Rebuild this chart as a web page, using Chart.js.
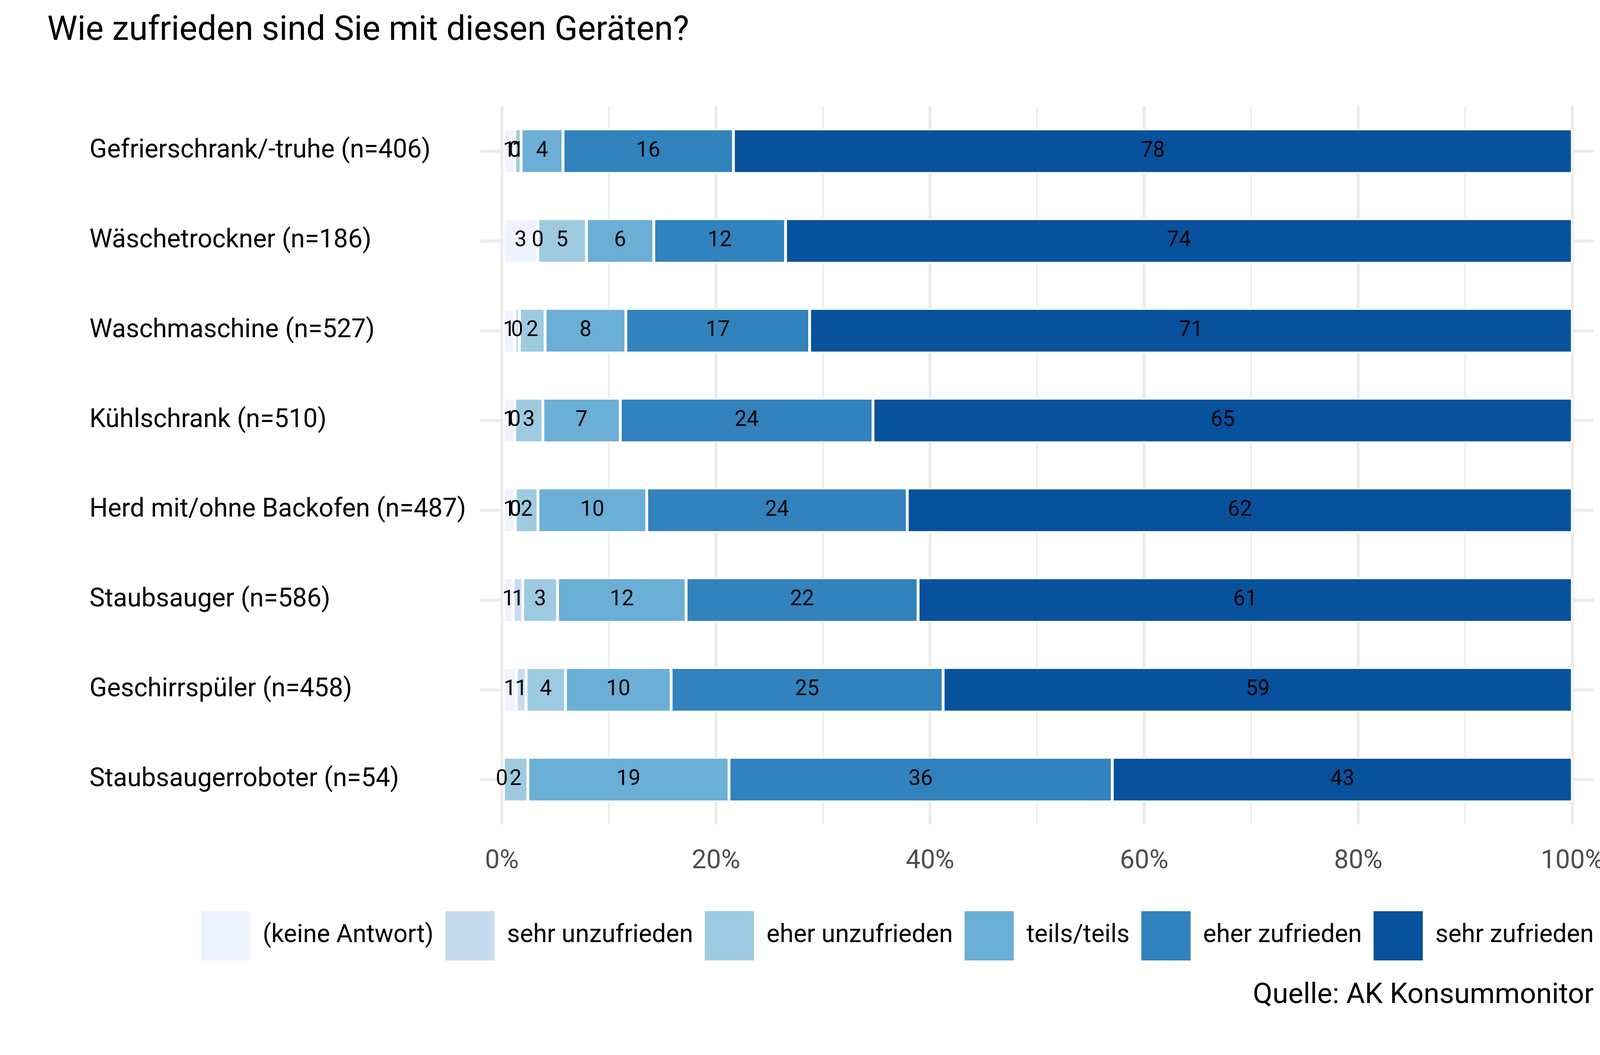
<!DOCTYPE html>
<html lang="de">
<head>
<meta charset="utf-8">
<title>Wie zufrieden sind Sie mit diesen Geräten?</title>
<script src="https://cdn.jsdelivr.net/npm/chart.js@4.4.1/dist/chart.umd.min.js"></script>
<style>
  html, body { margin: 0; padding: 0; background: #ffffff; }
  #wrap { width: 4200px; height: 2700px; position: relative; }
</style>
</head>
<body>
<div id="wrap"><canvas id="chart"></canvas></div>
<script>
// Geräte, von oben nach unten
const geraete = [
  'Gefrierschrank/-truhe (n=406)',
  'Wäschetrockner (n=186)',
  'Waschmaschine (n=527)',
  'Kühlschrank (n=510)',
  'Herd mit/ohne Backofen (n=487)',
  'Staubsauger (n=586)',
  'Geschirrspüler (n=458)',
  'Staubsaugerroboter (n=54)'
];

// Anteile in Prozent
const keineAntwort    = [1.2, 3.35, 1.2, 1.2, 1.25, 1.06, 1.35, 0];
const sehrUnzufrieden = [0, 0, 0.44, 0, 0, 0.88, 0.91, null];
const eherUnzufrieden = [0.6, 4.55, 2.4, 2.63, 2.12, 3.26, 3.68, 2.43];
const teilsTeils      = [3.91, 6.29, 7.54, 7.23, 10.16, 12.01, 9.87, 18.79];
const eherZufrieden   = [15.92, 12.31, 17.17, 23.61, 24.34, 21.67, 25.41, 35.8];
const sehrZufrieden   = [78.37, 73.5, 71.25, 65.33, 62.13, 61.12, 58.78, 42.98];

const antworten = ['(keine Antwort)', 'sehr unzufrieden', 'eher unzufrieden', 'teils/teils', 'eher zufrieden', 'sehr zufrieden'];
const farben = ['#eff3ff', '#c6dbef', '#9ecae1', '#6baed6', '#3182bd', '#08519c'];
const werte = [keineAntwort, sehrUnzufrieden, eherUnzufrieden, teilsTeils, eherZufrieden, sehrZufrieden];

// Achse: Striche alle 10 %, Beschriftung alle 20 %
const xTicks = [0, 10, 20, 30, 40, 50, 60, 70, 80, 90, 100];

Chart.defaults.font.family = 'Roboto';

// Zahlen mittig in die Balkenstücke schreiben
const balkenWerte = {
  id: 'balkenWerte',
  afterDatasetsDraw(chart) {
    const ctx = chart.ctx;
    ctx.save();
    ctx.font = '55px Roboto';
    ctx.fillStyle = '#000000';
    ctx.textAlign = 'center';
    ctx.textBaseline = 'middle';
    chart.data.datasets.forEach((ds, i) => {
      chart.getDatasetMeta(i).data.forEach((bar, j) => {
        const v = ds.data[j];
        if (v === null || v === undefined) return;
        ctx.fillText(Math.round(v), (bar.x + bar.base) / 2, bar.y);
      });
    });
    ctx.restore();
  }
};

// Titel weiter links als die Achsenbeschriftung, Legende bündig rechts
const verschieben = {
  id: 'verschieben',
  afterLayout(chart) {
    chart.titleBlock.left = 121;
    chart.legend.left += 30;
    chart.legend.right += 30;
  }
};

new Chart(document.getElementById('chart'), {
  type: 'bar',
  data: {
    labels: geraete,
    datasets: antworten.map((name, i) => ({
      label: name,
      data: werte[i],
      backgroundColor: farben[i],
      borderColor: '#ffffff',
      borderWidth: 4,
      borderSkipped: false,
      barThickness: 114
    }))
  },
  options: {
    indexAxis: 'y',
    responsive: true,
    maintainAspectRatio: false,
    animation: false,
    layout: {
      padding: { left: 229, right: 120, top: 0, bottom: 0 }
    },
    plugins: {
      title: {
        display: true,
        text: 'Wie zufrieden sind Sie mit diesen Geräten?',
        align: 'start',
        color: '#000000',
        font: { size: 87, weight: 'normal' },
        padding: { top: 28, bottom: 139.6 }
      },
      subtitle: {
        display: true,
        text: 'Quelle: AK Konsummonitor',
        position: 'bottom',
        align: 'end',
        color: '#000000',
        font: { size: 73, weight: 'normal' },
        padding: { top: 37, bottom: 107.4 }
      },
      legend: {
        position: 'bottom',
        align: 'end',
        labels: {
          color: '#000000',
          font: { size: 64 },
          boxWidth: 126,
          boxHeight: 126,
          padding: 30,
          generateLabels(chart) {
            return Chart.defaults.plugins.legend.labels.generateLabels(chart).map(l => {
              l.lineWidth = 0;
              l.strokeStyle = 'rgba(0,0,0,0)';
              return l;
            });
          }
        }
      },
      tooltip: { enabled: false }
    },
    scales: {
      x: {
        type: 'linear',
        stacked: true,
        min: -2,
        max: 102,
        afterBuildTicks(axis) {
          axis.ticks = xTicks.map(v => ({ value: v }));
        },
        afterFit(scale) {
          scale.height = 192;
        },
        border: { display: false },
        grid: {
          color: '#ebebeb',
          lineWidth: c => (c.tick && c.tick.value % 20 === 0) ? 7.7 : 3.8,
          drawTicks: false
        },
        ticks: {
          autoSkip: false,
          maxRotation: 0,
          padding: 55,
          color: '#4d4d4d',
          font: { size: 67 },
          callback: v => (v % 20 === 0 ? v + '%' : '')
        }
      },
      y: {
        stacked: true,
        afterFit(scale) {
          scale.width = 1001;
        },
        border: { display: false },
        grid: {
          offset: false,
          color: '#ebebeb',
          lineWidth: 7.7,
          drawTicks: false
        },
        ticks: {
          crossAlign: 'far',
          color: '#000000',
          font: { size: 66 }
        }
      }
    }
  },
  plugins: [balkenWerte, verschieben]
});
</script>
</body>
</html>
